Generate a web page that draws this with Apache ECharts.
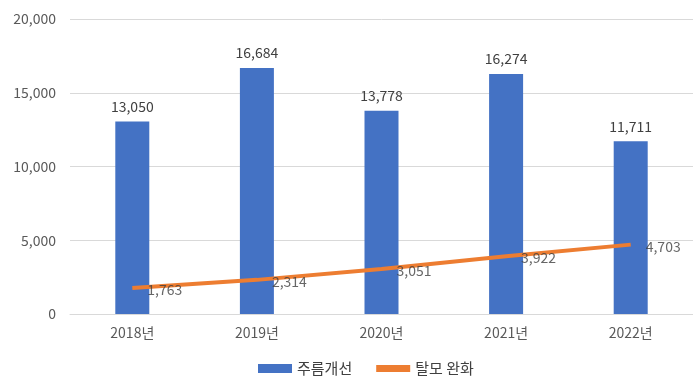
<!DOCTYPE html>
<html><head><meta charset="utf-8">
<script src="https://cdn.jsdelivr.net/npm/echarts@6/dist/echarts.min.js"></script>
<style>html,body{margin:0;padding:0;background:#fff}#c{width:693px;height:384px}</style>
</head><body><div id="c"></div>
<script>
const categories = ['2018년','2019년','2020년','2021년','2022년'];
const wrinkle = [13050,16684,13778,16274,11711];
const hairloss = [1763,2314,3051,3922,4703];
const font = '"Malgun Gothic","Noto Sans CJK KR","Noto Sans",sans-serif';
const fmt = p => p.value.toLocaleString('en-US');
const chart = echarts.init(document.getElementById('c'));
chart.setOption({
  animation:false,
  textStyle:{fontFamily:font},
  grid:{left:70,right:0,top:19,bottom:70,containLabel:false},
  legend:{bottom:3,left:253,itemGap:24,itemWidth:34,itemHeight:9,
    textStyle:{fontSize:15,color:'#404040',fontFamily:font},
    data:[{name:'주름개선',icon:'rect'},{name:'탈모 완화',icon:'path://M0,0H10V2H0Z'}]},
  xAxis:{type:'category',data:categories,
    axisLine:{lineStyle:{color:'#d9d9d9'}},axisTick:{show:false},
    axisLabel:{color:'#595959',fontSize:14,margin:12,fontFamily:font}},
  yAxis:{type:'value',min:0,max:20000,interval:5000,
    axisLine:{show:false},axisTick:{show:false},
    splitLine:{lineStyle:{color:'#d9d9d9'}},
    axisLabel:{color:'#595959',fontSize:14,margin:14,fontFamily:font,
      formatter:v=>v.toLocaleString('en-US')}},
  series:[
    {name:'주름개선',type:'bar',data:wrinkle,barWidth:34,
     itemStyle:{color:'#4472C4'},
     label:{show:true,position:'top',distance:8,color:'#404040',fontSize:14,fontFamily:font,formatter:fmt}},
    {name:'탈모 완화',type:'line',data:hairloss,symbol:'none',
     lineStyle:{color:'#ED7D31',width:4},itemStyle:{color:'#ED7D31'}},
    {name:'탈모 완화 라벨',type:'scatter',data:hairloss,symbolSize:2,z:10,silent:true,
     itemStyle:{color:'rgba(0,0,0,0)'},
     label:{show:true,position:'right',distance:14,offset:[0,2],color:'#404040',fontSize:14,fontFamily:font,formatter:fmt}}
  ]
});
</script></body></html>
